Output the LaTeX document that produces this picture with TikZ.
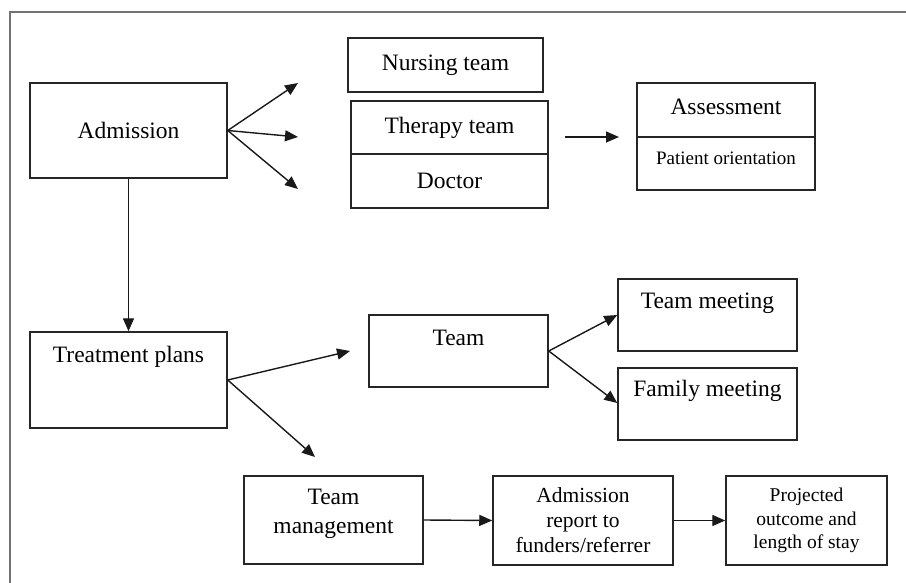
\documentclass[tikz,border=0pt]{standalone}
\usepackage{fontspec}
\setmainfont{Liberation Serif}
\usetikzlibrary{arrows.meta}
\tikzset{
  box/.style={draw=black!85, line width=1.5pt, inner sep=0pt, align=center,
    font=\fontsize{23.5}{29}\selectfont},
  lbl/.style={inner sep=0pt, align=center, font=\fontsize{23.5}{29}\selectfont},
  arr/.style={line width=1.4pt, draw=black!90, -{Triangle[length=13pt,width=11pt]}},
}
\begin{document}
\begin{tikzpicture}[x=1pt, y=-1pt]
    \useasboundingbox (0,0) rectangle (906,583);
    % Cornice
    \draw[black!55, line width=1.5pt] (10,583) -- (10,12) -- (906,12);

    % Riga in alto
    \node[box, minimum width=197pt, minimum height=95pt] (adm) at (128.5,130.5) {Admission};
    \node[box, minimum width=195pt, minimum height=54pt] (nur) at (445.5,65) {Nursing team};
    \node[box, minimum width=197pt, minimum height=53pt] (thr) at (449.5,127.5) {Therapy team};
    \node[box, minimum width=197pt, minimum height=54pt] (doc) at (449.5,181) {Doctor};
    \node[box, minimum width=178pt, minimum height=54pt] (ass) at (726,110) {};
    \node[box, minimum width=178pt, minimum height=53pt] (pat) at (726,163.5) {};
    \node[lbl] (assl) at (726,107) {Assessment};
    \node[lbl, font=\fontsize{19}{23}\selectfont] (patl) at (726,158) {Patient orientation};

    % Frecce in alto
    \coordinate (a1) at (298,83);
    \coordinate (a2) at (298,137);
    \coordinate (a3) at (298,189);
    \coordinate (a4) at (565,137);
    \coordinate (a5) at (619,137);
    \foreach \t in {a1,a2,a3}
        \draw[arr] (adm.east) -- (\t);
    \draw[arr] (a4) -- (a5);

    % Piani di trattamento
    \node[box, minimum width=197pt, minimum height=96pt] (trt) at (128.5,380) {};
    \node[lbl] (trtl) at (128.5,357) {Treatment plans};
    \draw[arr] (adm.south) -- (trt.north);

    \node[box, minimum width=179pt, minimum height=72pt] (tea) at (458.5,351) {};
    \node[lbl] (teal) at (458.5,338) {Team};
    \node[box, minimum width=179pt, minimum height=72pt] (tmt) at (707.5,315) {};
    \node[lbl] (tmtl) at (707.5,303) {Team meeting};
    \node[box, minimum width=179pt, minimum height=72pt] (fam) at (707.5,404) {};
    \node[lbl] (faml) at (707.5,391) {Family meeting};

    \coordinate (b1) at (350,351);
    \coordinate (b2) at (315,457);
    \draw[arr] (trt.east) -- (b1);
    \draw[arr] (trt.east) -- (b2);
    \draw[arr] (tea.east) -- (tmt.west);
    \draw[arr] (tea.east) -- ([yshift=1pt]fam.west);

    % Riga in basso
    \node[box, minimum width=179pt, minimum height=88pt] (mgt) at (333.5,520) {};
    \node[lbl] (mgtl) at (333.5,514) {Team\\management};
    \node[box, minimum width=180pt, minimum height=89pt,
        font=\fontsize{21.5}{25}\selectfont] (rep) at (583,520.5) {Admission\\report to\\funders/referrer};
    \node[box, minimum width=161pt, minimum height=89pt,
        font=\fontsize{19.5}{23.5}\selectfont] (prj) at (806.5,520.5) {Projected\\outcome and\\length of stay};
    \draw[arr] (mgt.east) -- (rep.west);
    \draw[arr] (rep.east) -- (prj.west);
\end{tikzpicture}
\end{document}
